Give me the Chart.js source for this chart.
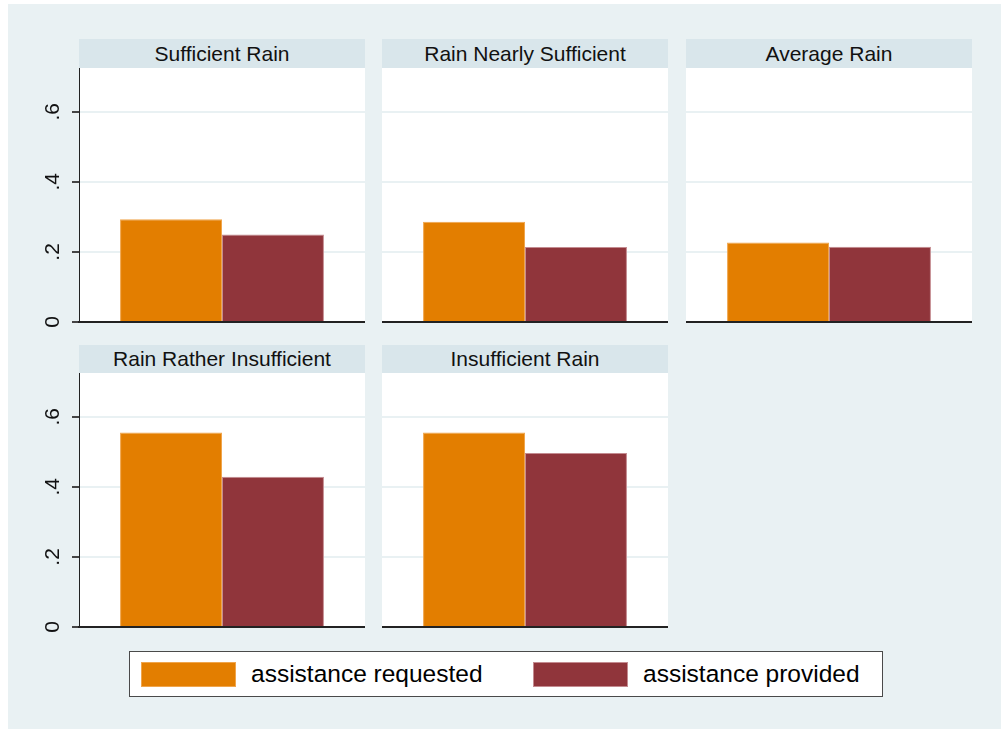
<!DOCTYPE html>
<html>
<head>
<meta charset="utf-8">
<script src="https://cdn.jsdelivr.net/npm/chart.js@4.4.0/dist/chart.umd.min.js"></script>
<style>
    body { margin: 0; background: #ffffff; font-family: "Liberation Sans", Arial, sans-serif; }
    #page { position: absolute; left: 8px; top: 4px; width: 993px; height: 725px; background: #e9f1f3; }
    .head { position: absolute; background: #d9e6eb; color: #111; font-size: 21px; text-align: center; }
    canvas { position: absolute; }
    #legend { position: absolute; left: 129px; top: 651px; width: 752px; height: 44px; background: #fff; border: 1.5px solid #4a4a4a; }
    .sw { position: absolute; top: 10px; width: 93px; height: 23px; }
    .lbl { position: absolute; top: 7px; font-size: 24.5px; color: #000; line-height: 30px; }
</style>
</head>
<body>
<div id="page"></div>
<div id="holder"></div>
<div id="legend"></div>

<script>
// panel titles, in reading order
const panels = ['Sufficient Rain', 'Rain Nearly Sufficient', 'Average Rain', 'Rain Rather Insufficient', 'Insufficient Rain'];
const seriesNames = ['assistance requested', 'assistance provided'];
const requested = [0.293, 0.286, 0.227, 0.555, 0.555];
const provided = [0.250, 0.214, 0.215, 0.429, 0.497];
const yTicks = [0, 0.2, 0.4, 0.6];
const yMax = 0.725;

const colors = ['#e37e00', '#90353b'];
const borders = ['#f0a54c', '#c48b90'];

// layout of the grid of panels
const colLeft = [79, 382, 686];
const rowHeadTop = [39, 345];
const rowPlotTop = [68, 373];
const plotW = 286;
const plotH = 254;
const axisW = 79;

// white plot region behind the bars
const plotBg = {
    id: 'plotBg',
    beforeDraw(chart) {
        const { ctx, chartArea: a } = chart;
        ctx.save();
        ctx.fillStyle = '#ffffff';
        ctx.fillRect(a.left, a.top, a.right - a.left, a.bottom - a.top);
        ctx.restore();
    }
};

const holder = document.getElementById('holder');

panels.forEach((title, i) => {
    const col = i % 3;
    const row = Math.floor(i / 3);
    const withAxis = col === 0;

    const head = document.createElement('div');
    head.className = 'head';
    head.style.left = colLeft[col] + 'px';
    head.style.top = rowHeadTop[row] + 'px';
    head.style.width = plotW + 'px';
    head.style.height = (rowPlotTop[row] - rowHeadTop[row]) + 'px';
    head.style.lineHeight = (rowPlotTop[row] - rowHeadTop[row]) + 'px';
    head.textContent = title;
    holder.appendChild(head);

    const cv = document.createElement('canvas');
    const w = withAxis ? colLeft[col] + plotW : plotW;
    const h = plotH + 10;
    cv.width = w;
    cv.height = h;
    cv.style.left = (withAxis ? 0 : colLeft[col]) + 'px';
    cv.style.top = rowPlotTop[row] + 'px';
    holder.appendChild(cv);

    new Chart(cv, {
        type: 'bar',
        data: {
            labels: [''],
            datasets: [
                { label: seriesNames[0], data: [requested[i]], backgroundColor: colors[0], borderColor: borders[0], borderWidth: 1 },
                { label: seriesNames[1], data: [provided[i]], backgroundColor: colors[1], borderColor: borders[1], borderWidth: 1 }
            ]
        },
        options: {
            responsive: false,
            devicePixelRatio: 1,
            animation: false,
            layout: { padding: { top: 0, right: 0, bottom: 10, left: 0 } },
            datasets: { bar: { categoryPercentage: 0.713, barPercentage: 1.0 } },
            plugins: { legend: { display: false }, tooltip: { enabled: false } },
            scales: {
                x: {
                    grid: { display: false },
                    border: { display: true, color: '#222', width: 2 },
                    ticks: { display: false },
                    afterFit: (s) => { s.height = 0; s.paddingLeft = 0; s.paddingRight = 0; }
                },
                y: {
                    min: 0,
                    max: yMax,
                    afterBuildTicks: (s) => { s.ticks = yTicks.map(v => ({ value: v })); },
                    grid: {
                        color: '#e9f1f3',
                        lineWidth: 2,
                        drawTicks: withAxis,
                        tickLength: 7,
                        tickColor: '#444'
                    },
                    border: { display: withAxis, color: '#222', width: 1 },
                    ticks: {
                        display: withAxis,
                        minRotation: 90,
                        maxRotation: 90,
                        crossAlign: 'center',
                        padding: 10,
                        color: '#111',
                        font: { family: 'Liberation Sans', size: 21 },
                        callback: (v) => v === 0 ? '0' : v.toFixed(1).replace(/^0/, '')
                    },
                    afterFit: (s) => { s.width = withAxis ? axisW : 0; s.paddingTop = 0; s.paddingBottom = 0; }
                }
            }
        },
        plugins: [plotBg]
    });
});

// shared legend
const legend = document.getElementById('legend');
const swLeft = [11, 403];
const txtLeft = [121, 513];
seriesNames.forEach((name, k) => {
    const sw = document.createElement('div');
    sw.className = 'sw';
    sw.style.left = swLeft[k] + 'px';
    sw.style.background = colors[k];
    sw.style.border = '1px solid ' + borders[k];
    legend.appendChild(sw);

    const t = document.createElement('div');
    t.className = 'lbl';
    t.style.left = txtLeft[k] + 'px';
    t.textContent = name;
    legend.appendChild(t);
});
</script>
</body>
</html>
